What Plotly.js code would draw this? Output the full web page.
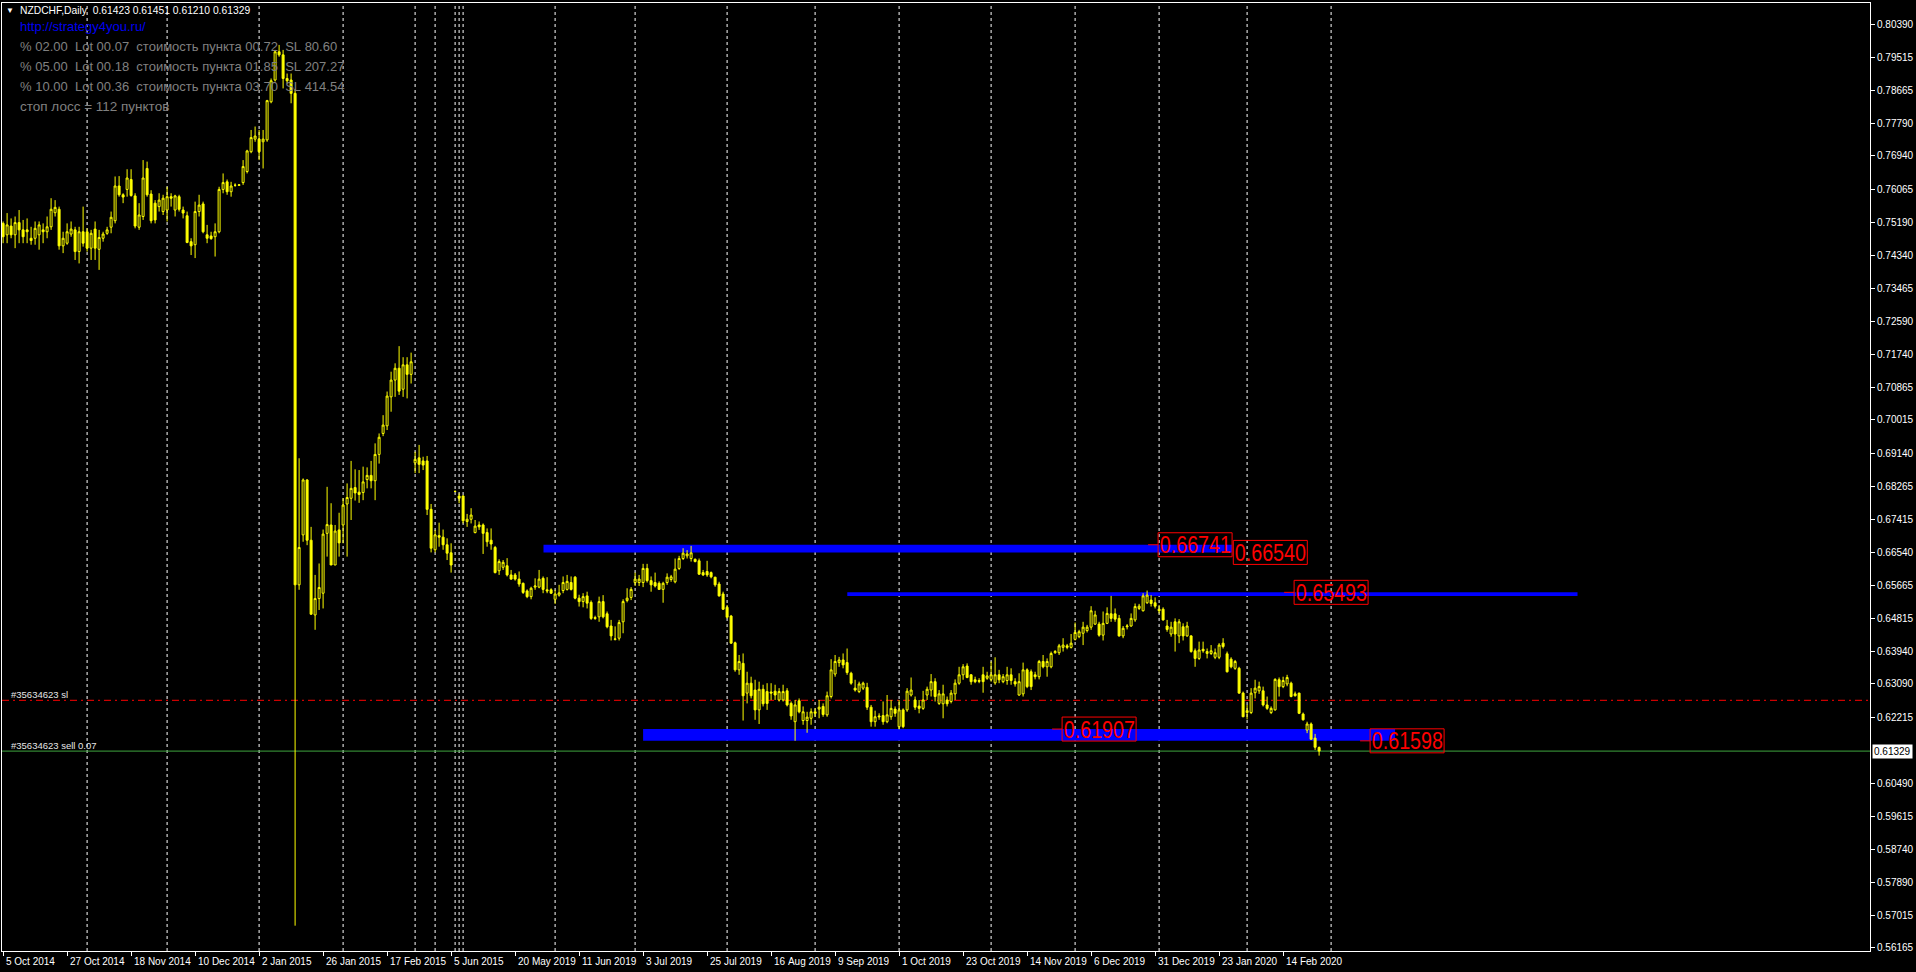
<!DOCTYPE html>
<html><head><meta charset="utf-8">
<script src="https://cdn.plot.ly/plotly-3.0.1.min.js"></script>
<style>html,body{margin:0;padding:0;background:#000;overflow:hidden}#chart{width:1916px;height:972px}</style>
</head><body><div id="chart"></div>
<script>
const openP=[
.7517,.7487,.7510,.7487,.7519,.7500,.7500,.7478,.7478,.7487,
.7500,.7495,.7508,.7545,.7554,.7458,.7465,.7489,.7500,.7443,
.7495,.7495,.7452,.7502,.7449,.7478,.7491,.7507,.7524,.7615,
.7592,.7606,.7632,.7589,.7507,.7535,.7661,.7594,.7570,.7561,
.7548,.7552,.7587,.7552,.7587,.7552,.7537,.7469,.7461,.7548,
.7568,.7487,.7484,.7482,.7495,.7606,.7626,.7600,.7617,.7617,
.7624,.7653,.7705,.7738,.7738,.7731,.7736,.7836,.7893,.7967,
.7959,.7897,.7893,.7858,.6569,.6700,.6844,.6686,.6490,.6533,
.6547,.6704,.6726,.6621,.6713,.6726,.6781,.6796,.6824,.6812,
.6811,.6845,.6856,.6842,.6911,.6966,.6986,.7062,.7106,.7137,
.7082,.7146,.7121,.6889,.6902,.6894,.6894,.6767,.6661,.6698,
.6694,.6674,.6653,.6814,.6802,.6802,.6735,.6741,.6706,.6726,
.6726,.6706,.6686,.6667,.6606,.6615,.6619,.6595,.6595,.6584,
.6573,.6553,.6538,.6563,.6563,.6586,.6556,.6556,.6531,.6542,
.6554,.6557,.6575,.6589,.6534,.6525,.6540,.6523,.6483,.6485,
.6525,.6493,.6461,.6426,.6429,.6472,.6528,.6536,.6575,.6575,
.6575,.6612,.6580,.6575,.6573,.6557,.6575,.6583,.6577,.6612,
.6638,.6645,.6638,.6636,.6632,.6601,.6604,.6601,.6589,.6571,
.6545,.6510,.6487,.6417,.6346,.6363,.6285,.6311,.6293,.6241,
.6295,.6289,.6288,.6290,.6267,.6267,.6291,.6258,.6210,.6265,
.6213,.6213,.6219,.6236,.6243,.6250,.6228,.6276,.6335,.6365,
.6372,.6365,.6337,.6298,.6289,.6298,.6300,.6248,.6210,.6225,
.6226,.6210,.6223,.6243,.6197,.6241,.6241,.6280,.6267,.6251,
.6245,.6280,.6293,.6315,.6258,.6257,.6267,.6263,.6283,.6311,
.6333,.6356,.6333,.6320,.6318,.6333,.6324,.6321,.6312,.6333,
.6315,.6318,.6333,.6315,.6280,.6283,.6346,.6341,.6333,.6328,
.6368,.6354,.6354,.6391,.6391,.6405,.6409,.6405,.6426,.6433,
.6442,.6449,.6458,.6466,.6466,.6437,.6468,.6493,.6493,.6481,
.6435,.6459,.6461,.6477,.6507,.6501,.6522,.6529,.6522,.6505,
.6505,.6461,.6440,.6472,.6435,.6459,.6435,.6435,.6396,.6376,
.6400,.6389,.6389,.6379,.6379,.6416,.6388,.6374,.6350,.6350,
.6285,.6234,.6234,.6286,.6291,.6291,.6254,.6234,.6241,.6320,
.6302,.6309,.6311,.6283,.6285,.6230,.6188,.6204,.6167,.61423];
const highP=[
.7522,.7544,.7530,.7535,.7552,.7526,.7530,.7508,.7522,.7522,
.7517,.7535,.7583,.7578,.7561,.7495,.7517,.7522,.7508,.7508,
.7561,.7504,.7500,.7522,.7500,.7495,.7508,.7548,.7640,.7641,
.7596,.7659,.7659,.7596,.7570,.7683,.7679,.7604,.7578,.7596,
.7592,.7613,.7596,.7592,.7592,.7561,.7548,.7478,.7574,.7592,
.7574,.7513,.7495,.7517,.7613,.7648,.7632,.7626,.7622,.7620,
.7683,.7710,.7762,.7771,.7762,.7762,.7841,.7897,.7972,.7985,
.7972,.7910,.7910,.7870,.6901,.6848,.6846,.6721,.6595,.6625,
.6714,.6826,.6783,.6726,.6758,.6796,.6835,.6894,.6872,.6870,
.6879,.6877,.6894,.6940,.6966,.7014,.7076,.7128,.7150,.7195,
.7166,.7166,.7178,.6918,.6936,.6905,.6907,.6781,.6713,.6732,
.6714,.6691,.6678,.6816,.6809,.6804,.6755,.6770,.6739,.6735,
.6730,.6717,.6717,.6671,.6636,.6634,.6639,.6608,.6600,.6604,
.6575,.6557,.6564,.6586,.6608,.6591,.6589,.6560,.6556,.6569,
.6591,.6595,.6591,.6592,.6543,.6547,.6551,.6528,.6488,.6538,
.6542,.6499,.6477,.6460,.6477,.6531,.6560,.6563,.6601,.6595,
.6624,.6624,.6591,.6601,.6578,.6577,.6599,.6595,.6638,.6645,
.6665,.6660,.6671,.6638,.6638,.6608,.6632,.6604,.6590,.6577,
.6551,.6516,.6490,.6420,.6385,.6389,.6341,.6328,.6320,.6315,
.6307,.6311,.6311,.6307,.6298,.6307,.6298,.6263,.6267,.6271,
.6250,.6236,.6245,.6245,.6267,.6258,.6289,.6374,.6385,.6380,
.6389,.6402,.6341,.6320,.6315,.6315,.6312,.6254,.6239,.6232,
.6263,.6280,.6267,.6250,.6267,.6245,.6298,.6326,.6276,.6267,
.6291,.6302,.6335,.6324,.6293,.6307,.6276,.6293,.6321,.6354,
.6361,.6363,.6335,.6328,.6324,.6354,.6341,.6368,.6379,.6346,
.6335,.6354,.6350,.6324,.6337,.6365,.6350,.6347,.6341,.6372,
.6385,.6376,.6394,.6398,.6414,.6429,.6414,.6440,.6470,.6451,
.6472,.6464,.6513,.6501,.6472,.6499,.6510,.6540,.6507,.6490,
.6461,.6466,.6494,.6520,.6519,.6547,.6554,.6542,.6536,.6516,
.6510,.6477,.6472,.6481,.6479,.6468,.6472,.6437,.6402,.6420,
.6420,.6402,.6411,.6402,.6416,.6429,.6394,.6379,.6372,.6354,
.6289,.6254,.6298,.6320,.6315,.6302,.6276,.6250,.6324,.6326,
.6328,.6333,.6315,.6289,.6286,.6234,.6210,.6208,.6178,.61451];
const lowP=[
.7465,.7465,.7478,.7452,.7465,.7465,.7465,.7461,.7461,.7448,
.7465,.7478,.7500,.7535,.7448,.7439,.7461,.7482,.7421,.7412,
.7456,.7443,.7421,.7421,.7395,.7469,.7487,.7491,.7517,.7587,
.7570,.7587,.7587,.7504,.7500,.7526,.7587,.7517,.7517,.7548,
.7539,.7522,.7561,.7535,.7548,.7530,.7465,.7434,.7426,.7535,
.7491,.7465,.7474,.7430,.7491,.7596,.7592,.7587,.7613,.7615,
.7618,.7648,.7701,.7731,.7683,.7661,.7731,.7832,.7889,.7954,
.7871,.7884,.7832,.5675,.6556,.6682,.6673,.6490,.6451,.6503,
.6507,.6643,.6621,.6621,.6643,.6678,.6643,.6739,.6790,.6784,
.6791,.6822,.6822,.6791,.6887,.6959,.6975,.7023,.7062,.7067,
.7062,.7058,.7097,.6862,.6862,.6870,.6752,.6654,.6654,.6669,
.6661,.6634,.6601,.6812,.6783,.6730,.6721,.6730,.6704,.6713,
.6650,.6669,.6661,.6599,.6595,.6608,.6591,.6582,.6580,.6564,
.6545,.6534,.6531,.6556,.6560,.6547,.6547,.6545,.6519,.6538,
.6547,.6554,.6554,.6531,.6512,.6510,.6507,.6477,.6477,.6472,
.6481,.6455,.6423,.6423,.6423,.6442,.6523,.6529,.6566,.6566,
.6563,.6575,.6551,.6562,.6556,.6522,.6569,.6577,.6573,.6608,
.6634,.6638,.6630,.6628,.6595,.6592,.6590,.6586,.6564,.6538,
.6503,.6481,.6414,.6341,.6333,.6213,.6258,.6271,.6215,.6204,
.6250,.6241,.6267,.6267,.6263,.6263,.6250,.6215,.6160,.6232,
.6202,.6181,.6202,.6223,.6219,.6223,.6223,.6271,.6328,.6354,
.6350,.6333,.6307,.6289,.6285,.6293,.6241,.6197,.6197,.6215,
.6202,.6206,.6215,.6223,.6190,.6193,.6236,.6276,.6241,.6232,
.6241,.6267,.6276,.6263,.6254,.6219,.6250,.6258,.6267,.6307,
.6320,.6324,.6307,.6311,.6311,.6286,.6320,.6315,.6307,.6311,
.6311,.6307,.6307,.6302,.6278,.6276,.6298,.6293,.6321,.6321,
.6350,.6328,.6350,.6388,.6385,.6394,.6400,.6402,.6423,.6429,
.6411,.6444,.6451,.6464,.6433,.6423,.6466,.6472,.6472,.6433,
.6429,.6452,.6459,.6472,.6503,.6499,.6519,.6512,.6507,.6494,
.6475,.6446,.6433,.6394,.6416,.6423,.6433,.6391,.6354,.6372,
.6391,.6376,.6385,.6374,.6374,.6402,.6339,.6350,.6346,.6283,
.6222,.6216,.6230,.6271,.6283,.6250,.6241,.6230,.6239,.6276,
.6298,.6303,.6274,.6276,.6230,.6213,.6180,.6162,.6136,.61210];
const closeP=[
.7482,.7513,.7487,.7519,.7500,.7482,.7495,.7472,.7504,.7513,
.7495,.7508,.7554,.7559,.7458,.7478,.7495,.7502,.7443,.7495,
.7465,.7452,.7491,.7452,.7480,.7489,.7500,.7533,.7615,.7592,
.7586,.7636,.7590,.7510,.7539,.7636,.7592,.7524,.7526,.7578,
.7583,.7587,.7583,.7589,.7554,.7544,.7467,.7458,.7548,.7565,
.7495,.7478,.7477,.7495,.7606,.7624,.7600,.7615,.7617,.7618,
.7666,.7707,.7742,.7746,.7705,.7738,.7839,.7891,.7967,.7959,
.7897,.7891,.7858,.6569,.6667,.6844,.6686,.6492,.6533,.6562,
.6702,.6727,.6621,.6710,.6679,.6778,.6798,.6822,.6810,.6806,
.6839,.6856,.6842,.6911,.6956,.6988,.7064,.7106,.7137,.7077,
.7146,.7121,.7154,.6898,.6885,.6883,.6767,.6665,.6700,.6694,
.6674,.6652,.6621,.6814,.6796,.6737,.6741,.6752,.6723,.6721,
.6704,.6682,.6676,.6601,.6630,.6628,.6595,.6584,.6584,.6571,
.6549,.6538,.6560,.6566,.6584,.6557,.6553,.6547,.6545,.6548,
.6575,.6578,.6557,.6534,.6525,.6538,.6521,.6481,.6481,.6525,
.6485,.6459,.6435,.6427,.6470,.6525,.6534,.6557,.6584,.6584,
.6612,.6580,.6569,.6566,.6557,.6573,.6589,.6590,.6610,.6638,
.6652,.6650,.6653,.6630,.6597,.6595,.6595,.6590,.6569,.6540,
.6505,.6484,.6416,.6346,.6368,.6278,.6311,.6278,.6241,.6295,
.6257,.6258,.6285,.6280,.6289,.6289,.6254,.6225,.6254,.6236,
.6236,.6222,.6236,.6232,.6248,.6229,.6278,.6346,.6368,.6372,
.6359,.6339,.6311,.6293,.6309,.6311,.6248,.6210,.6223,.6223,
.6210,.6228,.6245,.6232,.6241,.6197,.6290,.6293,.6248,.6245,
.6267,.6295,.6315,.6276,.6283,.6283,.6257,.6285,.6311,.6333,
.6354,.6326,.6315,.6315,.6316,.6315,.6330,.6333,.6333,.6320,
.6328,.6333,.6318,.6309,.6315,.6346,.6302,.6302,.6328,.6368,
.6354,.6368,.6389,.6394,.6409,.6411,.6405,.6416,.6444,.6446,
.6458,.6458,.6501,.6490,.6437,.6468,.6494,.6481,.6479,.6435,
.6455,.6461,.6481,.6512,.6513,.6540,.6542,.6520,.6513,.6501,
.6477,.6452,.6458,.6440,.6472,.6435,.6461,.6394,.6376,.6398,
.6396,.6394,.6396,.6391,.6411,.6407,.6341,.6354,.6368,.6285,
.6223,.6239,.6285,.6298,.6302,.6254,.6245,.6245,.6321,.6302,
.6318,.6326,.6276,.6278,.6232,.6215,.6204,.6164,.6143,.61329];

const dateLabels=["5 Oct 2014","27 Oct 2014","18 Nov 2014","10 Dec 2014","2 Jan 2015","26 Jan 2015","17 Feb 2015","5 Jun 2015","20 May 2019","11 Jun 2019","3 Jul 2019","25 Jul 2019","16 Aug 2019","9 Sep 2019","1 Oct 2019","23 Oct 2019","14 Nov 2019","6 Dec 2019","31 Dec 2019","23 Jan 2020","14 Feb 2020"];
const priceTicks=[0.80390,0.79515,0.78665,0.77790,0.76940,0.76065,0.75190,0.74340,0.73465,0.72590,0.71740,0.70865,0.70015,0.69140,0.68265,0.67415,0.66540,0.65665,0.64815,0.63940,0.63090,0.62215,0.60490,0.59615,0.58740,0.57890,0.57015,0.56165];
const separatorBars=[21,41,64,85,103,108,113,114,115,138,158,181,203,224,247,268,289,311,332];
const zoneUpper=[0.66540,0.66741];
const zoneMiddle=[0.65400,0.65493];
const zoneLower=[0.61598,0.61907];
const levelLabels=[0.66741,0.66540,0.65493,0.61907,0.61598];
const slLevel=0.62661;
const orderLevel=0.61329;
const symbolTitle="NZDCHF,Daily";
const siteText="http://strategy4you.ru/";
const infoLines=["% 02.00  Lot 00.07  стоимость пункта 00.72  SL 80.60","% 05.00  Lot 00.18  стоимость пункта 01.85  SL 207.27","% 10.00  Lot 00.36  стоимость пункта 03.70  SL 414.54","стоп лосс = 112 пунктов"];
const orderTexts=["#35634623 sl","#35634623 sell 0.07"];

const PL=2, PT=3, PW=1868, PH=948;
const PX_PER_BAR=4, PX_PER_PRICE=PH/(0.80950-0.56086);
const px=x=>(x-PL)/PW, py=y=>1-(y-PT)/PH;
const nb=s=>s.replace(/ /g,'\u00A0');
const n=closeP.length;
const xs=closeP.map((_,i)=>i);
const last=n-1;
const FONT='"Liberation Sans",Arial,sans-serif';

const trace={type:'candlestick',x:xs,open:openP,high:highP,low:lowP,close:closeP,
  increasing:{line:{color:'#FFFF00',width:1},fillcolor:'#000000'},
  decreasing:{line:{color:'#FFFF00',width:1},fillcolor:'#FFFF00'},
  whiskerwidth:0,hoverinfo:'skip',showlegend:false};

const shapes=[];
const band=(x0,x1,r)=>shapes.push({type:'rect',xref:'x',yref:'y',x0:x0,x1:x1,y0:r[0],y1:r[1],fillcolor:'#0000FF',line:{width:0},layer:'below'});
band(135.1,307.2,zoneUpper);
band(211.05,393.6,zoneMiddle);
band(160,348,zoneLower);
separatorBars.forEach(b=>shapes.push({type:'line',xref:'x',yref:'paper',x0:b,x1:b,y0:0,y1:1,line:{color:'#FFFFFF',width:1,dash:'3px,3px'},layer:'below'}));
shapes.push({type:'line',xref:'paper',yref:'y',x0:0,x1:1,y0:slLevel,y1:slLevel,line:{color:'#FF0000',width:1,dash:'7px,4px,2px,4px'},layer:'below'});
shapes.push({type:'line',xref:'paper',yref:'y',x0:0,x1:1,y0:orderLevel,y1:orderLevel,line:{color:'#3FA53F',width:1},layer:'below'});

const boxCenters=[298,316.8,332,274,351];
const annotations=[];
const halfW=37/PX_PER_BAR, halfH=12/PX_PER_PRICE;
levelLabels.forEach((v,k)=>{
  const c=boxCenters[k];
  shapes.push({type:'rect',xref:'x',yref:'y',x0:c-halfW,x1:c+halfW,y0:v-halfH,y1:v+halfH,line:{color:'#FF0000',width:1},fillcolor:'rgba(0,0,0,0)'});
  if(k!==1) shapes.push({type:'line',xref:'x',yref:'y',x0:c-halfW-2.5,x1:c-halfW,y0:v,y1:v,line:{color:'#FF0000',width:1}});
  annotations.push({xref:'x',yref:'y',x:c,y:v,text:v.toFixed(5),showarrow:false,xanchor:'center',yanchor:'middle',
    borderpad:0,font:{family:FONT,size:24,color:'#FF0000'}});
});

const txt=(x,y,t,size,color,extra)=>annotations.push(Object.assign({xref:'paper',yref:'paper',x:px(x),y:py(y),text:nb(t),showarrow:false,xanchor:'left',yanchor:'middle',font:{family:FONT,size:size,color:color}},extra||{}));
txt(4,10.3,'▼',8,'#FFFFFF');
txt(18,10.3,symbolTitle+'  '+[openP[last],highP[last],lowP[last],closeP[last]].map(v=>v.toFixed(5)).join(' '),10.3,'#FFFFFF');
txt(18,26.7,siteText,13,'#0000F0');
infoLines.forEach((s,k)=>txt(18,46.7+20*k,s,k<3?13:13.5,'#808080'));
txt(9,694,orderTexts[0],9.5,'#E6E6E6');
txt(9,745,orderTexts[1],9.5,'#E6E6E6');
annotations.push({xref:'paper',yref:'y',x:px(1872),y:orderLevel,text:closeP[last].toFixed(5),showarrow:false,xanchor:'left',yanchor:'middle',bgcolor:'#FFFFFF',borderpad:1,font:{family:FONT,size:10,color:'#000000'}});
dateLabels.forEach((s,i)=>annotations.push({xref:'x',yref:'paper',x:i*16,y:py(961),xshift:1,text:nb(s),showarrow:false,xanchor:'left',yanchor:'middle',font:{family:FONT,size:10,color:'#FFFFFF'}}));

const layout={
  width:1916,height:972,paper_bgcolor:'#000000',plot_bgcolor:'#000000',
  margin:{l:PL,r:1916-PL-PW,t:PT,b:972-PT-PH,pad:0},
  showlegend:false,dragmode:false,boxgap:0.3,
  xaxis:{range:[-0.275,466.725],showgrid:false,zeroline:false,showline:true,mirror:true,linecolor:'#FFFFFF',linewidth:1,
    tickmode:'array',tickvals:dateLabels.map((_,i)=>i*16),ticktext:dateLabels,showticklabels:false,ticks:'outside',ticklen:4,tickcolor:'#FFFFFF',
    rangeslider:{visible:false},fixedrange:true,automargin:false},
  yaxis:{range:[0.56086,0.80950],side:'right',showgrid:false,zeroline:false,showline:true,mirror:true,linecolor:'#FFFFFF',linewidth:1,
    tickmode:'array',tickvals:priceTicks,ticktext:priceTicks.map(v=>v.toFixed(5)),ticks:'outside',ticklen:4,tickcolor:'#FFFFFF',
    tickfont:{family:FONT,size:10,color:'#FFFFFF'},fixedrange:true,automargin:false},
  shapes:shapes,annotations:annotations
};
Plotly.newPlot('chart',[trace],layout,{displayModeBar:false,staticPlot:true}).then(()=>{
  const want=new Set(levelLabels.map(v=>v.toFixed(5)));
  document.querySelectorAll('#chart .annotation text.annotation-text').forEach(t=>{
    if(want.has(t.textContent)){
      t.style.transformBox='fill-box';
      t.style.transformOrigin='center';
      t.style.transform='scaleX(0.82)';
    }
  });
});
</script></body></html>
